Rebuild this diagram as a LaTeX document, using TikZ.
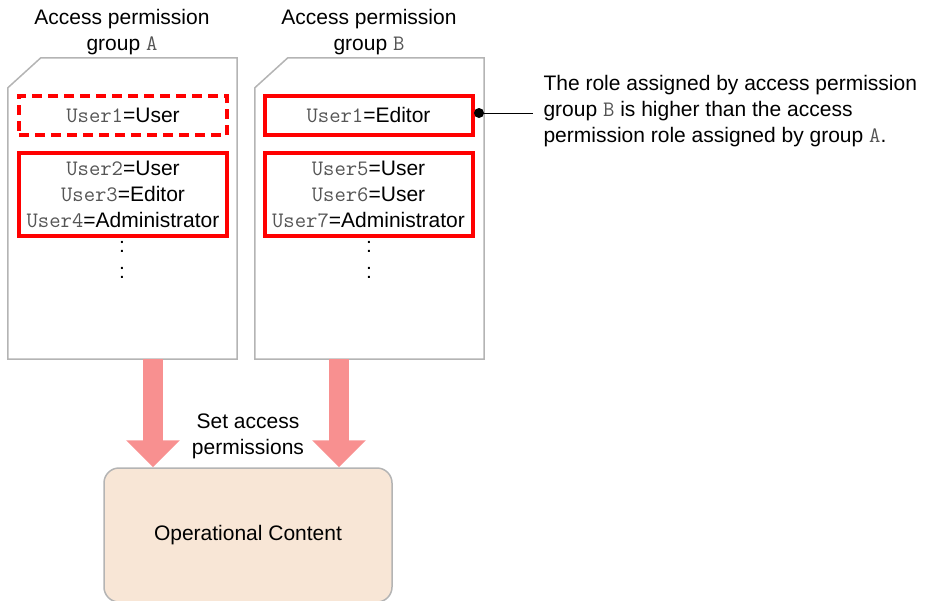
\documentclass[tikz,border=0pt]{standalone}
\usepackage{xcolor}
\usepackage{fontspec}
\setmainfont{Liberation Sans}
\setmonofont{Latin Modern Mono}[Scale=1.05]
\usepackage{tikz}
\usetikzlibrary{arrows.meta}

\definecolor{docgray}{HTML}{B4B4B4}
\definecolor{monogray}{HTML}{555555}
\definecolor{setpink}{HTML}{F89090}
\definecolor{contentfill}{HTML}{F8E6D6}
\newcommand{\mono}[1]{{\ttfamily\color{monogray}#1}}

\begin{document}
\begin{tikzpicture}[x=1pt,y=-1pt,
        font=\fontsize{21}{26}\selectfont,
        doc/.style={minimum width=229pt,minimum height=301pt,inner sep=0pt},
        userbox/.style={draw=red,line width=4pt,minimum width=208pt,inner sep=0pt,align=center},
        setarrow/.style={draw=setpink,line width=20pt,-{Triangle[width=52pt,length=27pt]}}]
        \useasboundingbox (0,0) rectangle (926,600);

        %% Documents
        \node[doc] (docA) at (122.5,208.5) {};
        \node[doc] (docB) at (369.5,208.5) {};
        \foreach \d in {docA,docB} {
                \draw[docgray,line width=1.5pt] (\d.south west) -- ([yshift=-30pt]\d.north west)
                        -- ([xshift=33pt]\d.north west) -- (\d.north east) -- (\d.south east) -- cycle;
        }

        % Titles
        \node[align=center] (titleA) at (122,32) {Access permission\\group \mono{A}};
        \node[align=center] (titleB) at (369,32) {Access permission\\group \mono{B}};

        % Users
        \node[userbox,dashed,dash pattern=on 10pt off 6pt,minimum height=39pt] (a1) at (123,115.5) {\mono{User1}=User};
        \node[userbox,minimum height=83pt] (a2) at (123,194.5) {\mono{User2}=User\\\mono{User3}=Editor\\\mono{User4}=Administrator};
        \node[userbox,minimum height=39pt] (b1) at (368.5,115.5) {\mono{User1}=Editor};
        \node[userbox,minimum height=83pt] (b2) at (368.5,194.5) {\mono{User5}=User\\\mono{User6}=User\\\mono{User7}=Administrator};
        \node[align=center] (moreA) at (122,260) {:\\:};
        \node[align=center] (moreB) at (369,260) {:\\:};

        % Note
        \coordinate (pin) at (479,113);
        \node[anchor=west,align=left] (note) at (540,111) {The role assigned by access permission\\group \mono{B} is higher than the access\\permission role assigned by group \mono{A}.};
        \draw[line width=1pt] (pin) -- ([xshift=-7pt]pin -| note.west);
        \fill (pin) circle (5pt);

        % Content
        \node[draw=docgray,fill=contentfill,line width=1.5pt,rounded corners=15pt,
                minimum width=288pt,minimum height=134pt] (content) at (248,535) {Operational Content};

        % Arrows
        \draw[setarrow] ([xshift=30.5pt]docA.south) -- ([xshift=30.5pt]docA.south |- content.north);
        \draw[setarrow] ([xshift=-30.5pt]docB.south) -- ([xshift=-30.5pt]docB.south |- content.north);
        \node[align=center] (setlabel) at (248,436) {Set access\\permissions};
\end{tikzpicture}
\end{document}
